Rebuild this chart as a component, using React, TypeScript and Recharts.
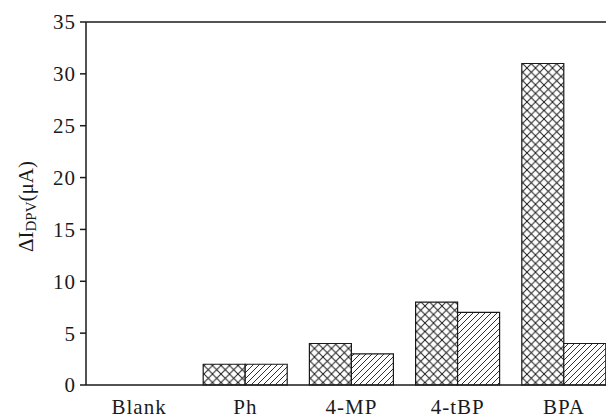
import React from "react";
import { BarChart, Bar, XAxis, YAxis, ReferenceLine } from "recharts";

// Analytes on the x axis and the two response series (µA)
const categories = ["Blank", "Ph", "4-MP", "4-tBP", "BPA"];
const crossSeries = [0, 2, 4, 8, 31];
const diagSeries = [0, 2, 3, 7, 4];
const yTicks = [0, 5, 10, 15, 20, 25, 30, 35];

const data = categories.map((name, i) => ({
  name,
  cross: crossSeries[i],
  diag: diagSeries[i],
}));

const FONT = '"Liberation Serif", "Times New Roman", Times, serif';
const INK = "#1a1a1a";

const YLabel = (props: any) => {
  const vb = props.viewBox || { x: 0, y: 22, width: 86, height: 363 };
  const cx = vb.x + 33;
  const cy = vb.y + vb.height / 2 + 3;
  return (
    <text
      transform={`translate(${cx},${cy}) rotate(-90)`}
      textAnchor="middle"
      fontFamily={FONT}
      fontSize={21}
      fill={INK}
    >
      <tspan>ΔI</tspan>
      <tspan fontSize={15} dy={3}>DPV</tspan>
      <tspan dy={-3}>(μA)</tspan>
    </text>
  );
};

export default function App() {
  return (
    <div
      style={{
        position: "absolute",
        left: 0,
        top: 0,
        width: 606,
        height: 419,
        overflow: "hidden",
        background: "#fff",
      }}
    >
      <svg width={0} height={0} style={{ position: "absolute" }}>
        <defs>
          <pattern id="crossHatch" patternUnits="userSpaceOnUse" width={8.5} height={8.5}>
            <rect width={8.5} height={8.5} fill="#fff" />
            <path d="M-1,-1 L9.5,9.5 M9.5,-1 L-1,9.5" stroke={INK} strokeWidth={1} />
          </pattern>
          <pattern id="diagHatch" patternUnits="userSpaceOnUse" width={6} height={6}>
            <rect width={6} height={6} fill="#fff" />
            <path d="M-1,7 L7,-1 M-1,1 L1,-1 M5,7 L7,5" stroke={INK} strokeWidth={0.9} />
          </pattern>
        </defs>
      </svg>
      <BarChart
        width={640}
        height={419}
        data={data}
        margin={{ top: 22, right: 23, bottom: 0, left: 0 }}
        barGap={0}
        barSize={42}
      >
        <XAxis
          dataKey="name"
          height={34}
          tickLine={false}
          tickSize={0}
          tickMargin={14}
          axisLine={{ stroke: INK, strokeWidth: 1.5 }}
          tick={{ fill: INK, fontFamily: FONT, fontSize: 21, letterSpacing: 1 }}
        />
        <YAxis
          width={86}
          domain={[0, 35]}
          ticks={yTicks}
          interval={0}
          tickSize={6}
          tickMargin={4}
          axisLine={{ stroke: INK, strokeWidth: 1.5 }}
          tickLine={{ stroke: INK, strokeWidth: 1.5 }}
          tick={{ fill: INK, fontFamily: FONT, fontSize: 21, letterSpacing: 1 }}
          label={{ content: (p: any) => <YLabel {...p} /> }}
        />
        <ReferenceLine y={35} stroke={INK} strokeWidth={1.5} />
        <Bar
          dataKey="cross"
          fill="url(#crossHatch)"
          stroke={INK}
          strokeWidth={1.2}
          isAnimationActive={false}
        />
        <Bar
          dataKey="diag"
          fill="url(#diagHatch)"
          stroke={INK}
          strokeWidth={1.2}
          isAnimationActive={false}
        />
      </BarChart>
    </div>
  );
}
